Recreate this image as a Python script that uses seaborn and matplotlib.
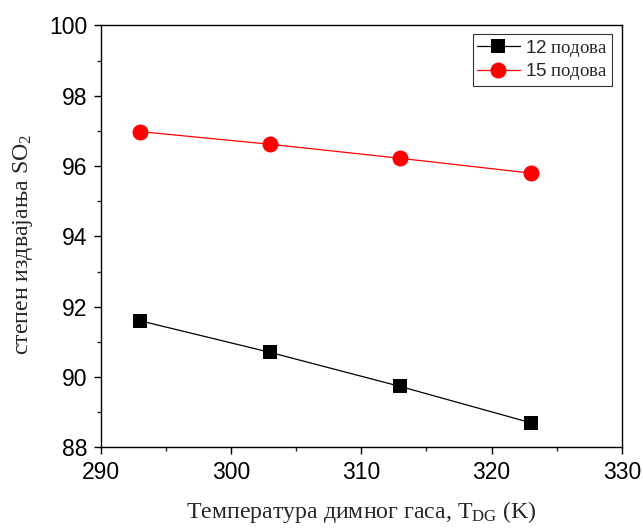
import pandas as pd
import matplotlib.pyplot as plt
import seaborn as sns

# data
temperature = [293, 303, 313, 323]
plates_12 = [91.6, 90.7, 89.73, 88.7]
plates_15 = [96.98, 96.62, 96.22, 95.8]
series_labels = ["12 подова", "15 подова"]

sns.set_style("ticks")
plt.rcParams["font.family"] = ["Liberation Sans", "DejaVu Sans"]
plt.rcParams["mathtext.fontset"] = "custom"
plt.rcParams["mathtext.rm"] = "Liberation Serif"
plt.rcParams["mathtext.sf"] = "Liberation Sans"
plt.rcParams["mathtext.it"] = "Liberation Serif:italic"

df_12 = pd.DataFrame({"T": temperature, "eta": plates_12})
df_15 = pd.DataFrame({"T": temperature, "eta": plates_15})

fig = plt.figure(figsize=(6.43, 5.3), dpi=100)
ax = fig.add_axes([0.157, 0.156, 0.810, 0.796])


def legend_label(text):
    # number in sans, word in serif, like the original
    num, word = text.split(" ")
    return "$\\mathsf{" + num + "}$ " + word


sns.lineplot(data=df_12, x="T", y="eta", ax=ax, color="black", lw=0.9,
             marker="s", markersize=10, markeredgewidth=0,
             label=legend_label(series_labels[0]))
sns.lineplot(data=df_15, x="T", y="eta", ax=ax, color="red", lw=0.9,
             marker="o", markersize=11.5, markeredgewidth=0,
             label=legend_label(series_labels[1]))

ax.set_xlim(290, 330)
ax.set_ylim(88, 100)
ax.set_xticks([290, 300, 310, 320, 330])
ax.set_yticks([88, 90, 92, 94, 96, 98, 100])
ax.set_xticks(range(295, 330, 10), minor=True)
ax.set_yticks(range(89, 100, 2), minor=True)
ax.tick_params(which="major", direction="out", length=5, width=1, labelsize=16.5,
               colors="black", pad=5)
ax.tick_params(which="minor", direction="out", length=3, width=1)
for s in ax.spines.values():
    s.set_visible(True)
    s.set_linewidth(1.0)
    s.set_color("black")

ax.set_xlabel("Температура димног гаса, T$_{\\rm DG}$ (K)",
              family="Liberation Serif", fontsize=17.2, labelpad=11)
ax.set_ylabel("степен издвајања SO$_{\\rm 2}$",
              family="Liberation Serif", fontsize=17.2, labelpad=10)
ax.yaxis.label.set_y(0.48)

leg = ax.legend(loc="upper right", bbox_to_anchor=(0.981, 0.98), borderaxespad=0,
                fancybox=False, frameon=True, edgecolor="black",
                prop={"family": "Liberation Serif", "size": 13.5},
                handlelength=2.3, handletextpad=0.3, labelspacing=0.15,
                borderpad=0.2)
leg.get_frame().set_linewidth(0.8)

plt.savefig("out.png", dpi=100)
